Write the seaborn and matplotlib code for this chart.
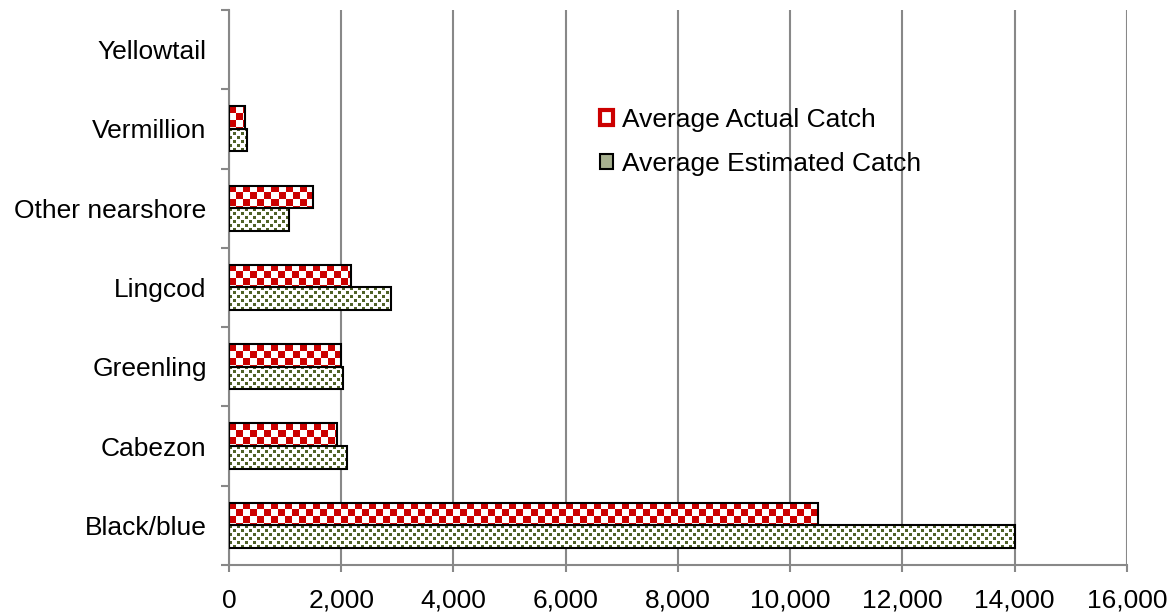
import numpy as np
import pandas as pd
import matplotlib
matplotlib.use("Agg")
import matplotlib.pyplot as plt
from matplotlib.patches import Patch
import seaborn as sns

species = ['Yellowtail', 'Vermillion', 'Other nearshore', 'Lingcod', 'Greenling', 'Cabezon', 'Black/blue']
actual_catch = [0, 285, 1500, 2170, 2000, 1930, 10500]
estimated_catch = [0, 320, 1070, 2890, 2030, 2100, 14000]
series = ['Average Actual Catch', 'Average Estimated Catch']
x_ticks = list(range(0, 16001, 2000))

RED = '#CC0000'
GREEN = '#4F6228'

df = pd.DataFrame({
    'Species': species * 2,
    'Catch': actual_catch + estimated_catch,
    'Series': [series[0]] * len(species) + [series[1]] * len(species),
})

sns.set_style('white')
plt.rcParams['font.family'] = ['Liberation Sans', 'DejaVu Sans']
plt.rcParams['text.color'] = 'black'
plt.rcParams['xtick.color'] = 'black'
plt.rcParams['ytick.color'] = 'black'

fig = plt.figure(figsize=(11.76, 6.14), dpi=100)
ax = fig.add_axes([0.1947, 0.0798, 0.7636, 0.904])

sns.barplot(data=df, x='Catch', y='Species', hue='Series', order=species,
            hue_order=series, orient='h', width=0.57, gap=0,
            palette=['white', 'white'], edgecolor='black', linewidth=1.5,
            legend=False, ax=ax, zorder=3)

ax.set_xlim(0, 16000)
ax.set_ylim(len(species) - 0.5, -0.5)


def pattern_img(h, w, kind):
    yy, xx = np.mgrid[0:h, 0:w]
    img = np.ones((h, w, 3))
    if kind == 0:
        mask = ((xx // 7) + (yy // 7)) % 2 == 0
        col = np.array(matplotlib.colors.to_rgb(RED))
    else:
        mask = ((xx % 8 < 3) & (yy % 8 < 3)) | (((xx + 4) % 8 < 3) & ((yy + 4) % 8 < 3))
        col = np.array(matplotlib.colors.to_rgb(GREEN))
    img[mask] = col
    return img


# fill each bar with its pattern, clipped to the bar
n = len(species)
for i, bar in enumerate(ax.patches[:2 * n]):
    kind = i // n
    if bar.get_width() <= 0:
        bar.set_linewidth(0)
        continue
    bb = bar.get_window_extent()
    w, h = max(int(round(bb.width)), 1), max(int(round(bb.height)), 1)
    db = bar.get_bbox()
    im = ax.imshow(pattern_img(h, w, kind), extent=(db.x0, db.x1, db.y1, db.y0),
                   aspect='auto', interpolation='nearest', zorder=2.5)
    im.set_clip_path(bar)
    bar.set_facecolor('none')

ax.set_xlim(0, 16000)
ax.set_ylim(len(species) - 0.5, -0.5)

ax.set_xticks(x_ticks)
ax.set_xticklabels([f'{v:,}' for v in x_ticks])
ax.set_yticks(range(n))
ax.set_yticklabels(species)
ax.set_yticks(np.arange(-0.5, n, 1), minor=True)
ax.tick_params(axis='y', which='major', length=0, pad=16, labelsize=19)
ax.tick_params(axis='y', which='minor', length=6, width=1.5, color='#888888', direction='out', left=True)
ax.tick_params(axis='x', which='major', length=5, width=1.5, color='#888888', direction='out',
               bottom=True, pad=12, labelsize=19)
ax.set_xlabel('')
ax.set_ylabel('')

ax.grid(axis='x', color='#888888', linewidth=1.5, zorder=0)
ax.set_axisbelow(True)
for s in ['top', 'right']:
    ax.spines[s].set_visible(False)
for s in ['left', 'bottom']:
    ax.spines[s].set_color('#888888')
    ax.spines[s].set_linewidth(1.5)

handles = [Patch(facecolor='white', edgecolor=RED, linewidth=3),
           Patch(facecolor='#A7B08F', edgecolor='black', linewidth=1.5)]
ax.legend(handles, series, loc='center left', bbox_to_anchor=(0.413, 0.762),
          frameon=False, fontsize=19, handlelength=0.5, handleheight=0.5,
          handletextpad=0.35, labelspacing=0.78, borderpad=0, borderaxespad=0)

fig.savefig('out.png', dpi=100)
